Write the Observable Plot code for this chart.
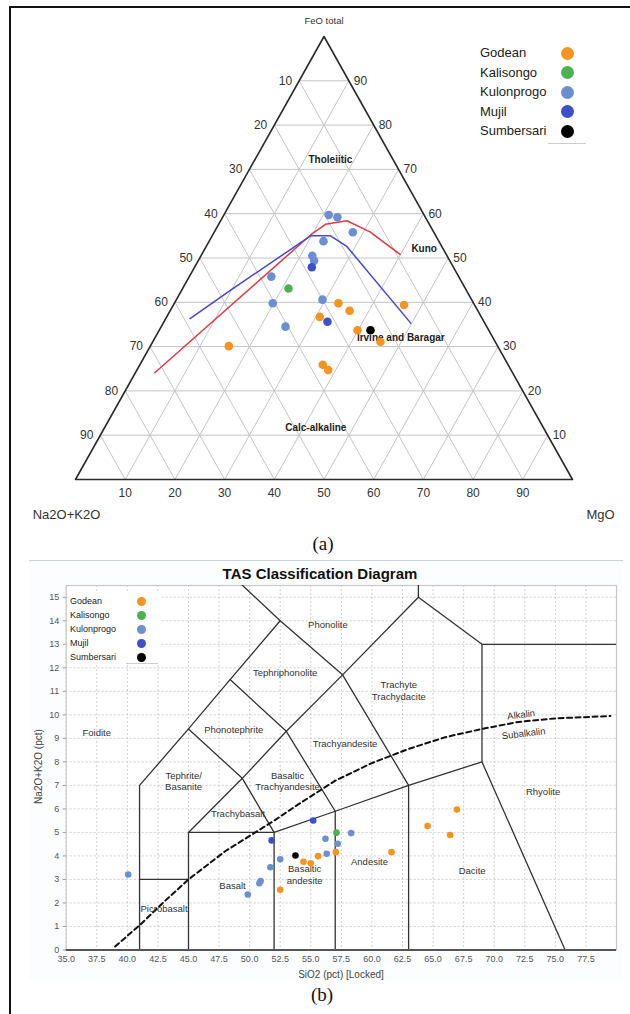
<!DOCTYPE html>
<html><head><meta charset="utf-8">
<script src="https://cdn.jsdelivr.net/npm/d3@7"></script>
<script src="https://cdn.jsdelivr.net/npm/@observablehq/plot@0.6"></script>
<style>
body{margin:0;background:#fff;font-family:Arial,"Liberation Sans",sans-serif;}
#page{position:relative;width:630px;height:1014px;overflow:hidden;background:#fff;}
.abs{position:absolute;}
#border{left:9px;top:6px;width:640px;height:1030px;border-left:2px solid #111;border-top:2px solid #111;}
#sep{left:29px;top:560px;width:594px;height:0;border-top:1.5px solid #c9d3de;}
#bgb{left:29px;top:562px;width:594px;height:418px;background:#fcfdfe;}
.leg{font-size:13px;color:#222;}
.leg .row{position:absolute;left:0;height:18px;line-height:18px;white-space:nowrap;}
.leg .dot{position:absolute;border-radius:50%;}
.cap{font-family:"Liberation Serif","Times New Roman",serif;font-size:19px;color:#111;text-align:center;width:60px;}
</style></head><body>
<div id="page">
  <div id="bgb" class="abs"></div>
  <div id="sep" class="abs"></div>
  <div id="chartA" class="abs" style="left:0;top:0"></div>
  <div id="chartB" class="abs" style="left:0;top:560px"></div>
  <div id="legA" class="abs leg" style="left:480px;top:0;width:120px;height:150px"></div>
  <div id="legB" class="abs leg" style="left:70px;top:592px;width:90px;height:72px;background:#fff;font-size:9px"></div>
  <div class="abs cap" style="left:293px;top:533px">(a)</div>
  <div class="abs cap" style="left:292px;top:984px">(b)</div>
  <div class="abs" style="left:170px;top:565px;width:300px;text-align:center;font-weight:bold;font-size:15px;color:#111">TAS Classification Diagram</div>
  <div class="abs" style="left:241px;top:969px;width:200px;text-align:center;font-size:10px;color:#444">SiO2 (pct) [Locked]</div>
  <div class="abs" style="left:-62px;top:761px;width:200px;text-align:center;font-size:10px;color:#444;transform:rotate(-90deg)">Na2O+K2O (pct)</div>
  <div id="border" class="abs"></div>
</div>
<script>
// ---------- categories ----------
const groups = ["Godean", "Kalisongo", "Kulonprogo", "Mujil", "Sumbersari"];
const groupColors = ["#f7941d", "#4db152", "#6c8fd3", "#3a50cc", "#000000"];

// ---------- AFM ternary (a): A = Na2O+K2O, F = FeO total, M = MgO ----------
const ternTicks = [10, 20, 30, 40, 50, 60, 70, 80, 90];
const afmGroup = ["Godean","Godean","Godean","Godean","Godean","Godean","Godean","Godean","Godean",
  "Kalisongo",
  "Kulonprogo","Kulonprogo","Kulonprogo","Kulonprogo","Kulonprogo","Kulonprogo","Kulonprogo","Kulonprogo","Kulonprogo","Kulonprogo",
  "Mujil","Mujil","Sumbersari"];
const afmA = [27.2, 25.8, 32.5, 14.2, 26.4, 23.1, 54.1, 37.3, 36.8,
  35.6,
  19.2, 17.7, 16.3, 23.2, 27.1, 27.3, 37.7, 40.4, 30.0, 40.5,
  28.5, 31.5, 23.8];
const afmF = [39.8, 38.1, 36.7, 39.4, 33.7, 31.1, 30.1, 25.9, 24.7,
  43.1,
  59.7, 59.2, 55.8, 53.8, 50.5, 49.4, 45.8, 39.8, 40.6, 34.5,
  47.9, 35.6, 33.7];
const afmM = [33.0, 36.1, 30.8, 46.4, 39.9, 45.8, 15.8, 36.8, 38.5,
  21.3,
  21.1, 23.1, 27.9, 23.0, 22.4, 23.3, 16.5, 19.8, 29.4, 25.0,
  23.6, 32.9, 42.5];
// Kuno boundary (red)
const kunoA = [72.0, 25.1, 20.9, 16.2, 12.8, 9.3];
const kunoF = [24.1, 55.2, 57.6, 58.4, 55.9, 50.8];
const kunoM = [3.9, 19.7, 21.5, 25.4, 31.3, 39.9];
// Irvine and Baragar boundary (blue)
const ibA = [58.8, 47.3, 25.2, 21.2, 19.1, 14.9];
const ibF = [36.3, 42.8, 55.0, 55.0, 52.6, 35.3];
const ibM = [4.9, 9.9, 19.8, 23.8, 28.3, 49.8];
// field labels
const ternLabelText = ["Tholeiitic", "Kuno", "Irvine and Baragar", "Calc-alkaline"];
const ternLabelA = [12.6, 3.8, 18.5, 45.8];
const ternLabelF = [72.2, 52.1, 32.1, 11.7];
const ternLabelM = [15.2, 44.1, 49.4, 42.5];
const ternAxisNames = ["FeO total", "Na2O+K2O", "MgO"];

// ---------- TAS (b) ----------
const tasXTicks = [35, 37.5, 40, 42.5, 45, 47.5, 50, 52.5, 55, 57.5, 60, 62.5, 65, 67.5, 70, 72.5, 75, 77.5];
const tasYTicks = [0,1,2,3,4,5,6,7,8,9,10,11,12,13,14,15];
const tasGroup = ["Godean","Godean","Godean","Godean","Godean","Godean","Godean","Godean","Godean",
  "Kalisongo",
  "Kulonprogo","Kulonprogo","Kulonprogo","Kulonprogo","Kulonprogo","Kulonprogo","Kulonprogo","Kulonprogo","Kulonprogo","Kulonprogo",
  "Mujil","Mujil","Sumbersari"];
const tasSiO2 = [52.5, 54.4, 55.0, 55.6, 57.05, 61.6, 64.55, 66.4, 66.95,
  57.1,
  40.07, 49.85, 50.8, 50.9, 51.7, 52.5, 56.2, 56.3, 57.2, 58.3,
  51.8, 55.2, 53.75];
const tasAlk = [2.56, 3.75, 3.69, 3.99, 4.16, 4.16, 5.27, 4.89, 5.97,
  4.99,
  3.21, 2.36, 2.84, 2.93, 3.52, 3.86, 4.73, 4.09, 4.52, 4.97,
  4.66, 5.51, 4.02];
// field boundaries (polylines, SiO2 / Na2O+K2O)
const tasBoundaries = [
  [[41,0],[41,7],[45,9.4],[48.4,11.5],[52.5,14],[48.4,16]],
  [[41,3],[45,3]],
  [[45,0],[45,5],[49.4,7.3],[53,9.3],[57.6,11.7],[63.8,15],[63.8,16]],
  [[45,9.4],[49.4,7.3],[52,5]],
  [[48.4,11.5],[53,9.3],[57,5.9]],
  [[52.5,14],[57.6,11.7],[63,7]],
  [[45,5],[52,5],[57,5.9],[63,7],[69,8],[75.8,0]],
  [[52,0],[52,5]],
  [[57,0],[57,5.9]],
  [[63,0],[63,7]],
  [[69,8],[69,13],[63.8,15]],
  [[69,13],[80,13]]
];
// Alkalin / Subalkalin divide (dashed)
const divideSiO2 = [39.0, 41.0, 43.0, 45.0, 48.0, 50.0, 52.0, 54.0, 57.0, 60.0, 63.0, 66.0, 69.0, 72.0, 75.0, 79.5];
const divideAlk  = [0.15, 1.05, 2.05, 3.0, 4.2, 4.85, 5.5, 6.2, 7.2, 7.95, 8.55, 9.05, 9.4, 9.7, 9.85, 9.95];
const tasLabelText = ["Phonolite", "Tephriphonolite", "Trachyte\nTrachydacite", "Foidite", "Phonotephrite",
  "Trachyandesite", "Tephrite/\nBasanite", "Basaltic\nTrachyandesite", "Trachybasalt", "Basalt",
  "Basaltic\nandesite", "Andesite", "Dacite", "Rhyolite", "Picrobasalt"];
const tasLabelX = [56.4, 52.9, 62.2, 37.5, 48.7, 57.8, 44.6, 53.1, 49.05, 48.6, 54.5, 59.8, 68.2, 74.0, 43.0];
const tasLabelY = [13.87, 11.83, 11.05, 9.26, 9.4, 8.79, 7.2, 7.2, 5.8, 2.77, 3.22, 3.79, 3.39, 6.75, 1.77];
const divideLabelText = ["Alkalin", "Subalkalin"];
const divideLabelX = [72.2, 72.4];
const divideLabelY = [10.0, 9.2];

// ---------- helpers ----------
const tx = (a, f, m) => (m + f / 2) / (a + f + m) * 100;
const ty = (a, f, m) => f / (a + f + m) * 100;
const FONT = "Arial, 'Liberation Sans', sans-serif";

// ---------- panel (a) ----------
const afm = afmGroup.map((g, i) => ({g, x: tx(afmA[i], afmF[i], afmM[i]), y: ty(afmA[i], afmF[i], afmM[i])}));
const grid = ternTicks.flatMap(v => [
  [[100 - v, v, 0], [0, v, 100 - v]],
  [[100 - v, 0, v], [0, 100 - v, v]],
  [[v, 0, 100 - v], [v, 100 - v, 0]]
]).map(([p, q]) => ({x1: tx(...p), y1: ty(...p), x2: tx(...q), y2: ty(...q)}));
const tri = [[100,0,0],[0,100,0],[0,0,100],[100,0,0]].map(p => ({x: tx(...p), y: ty(...p)}));
const leftLab = ternTicks.map(v => ({x: tx(v, 100 - v, 0), y: ty(v, 100 - v, 0), t: String(v)}));
const rightLab = ternTicks.map(v => ({x: tx(0, v, 100 - v), y: ty(0, v, 100 - v), t: String(v)}));
const bottomLab = ternTicks.map(v => ({x: tx(100 - v, 0, v), y: ty(100 - v, 0, v), t: String(v)}));
const kuno = kunoA.map((a, i) => ({x: tx(a, kunoF[i], kunoM[i]), y: ty(a, kunoF[i], kunoM[i])}));
const ib = ibA.map((a, i) => ({x: tx(a, ibF[i], ibM[i]), y: ty(a, ibF[i], ibM[i])}));
const tLabels = ternLabelText.map((t, i) => ({t, x: tx(ternLabelA[i], ternLabelF[i], ternLabelM[i]), y: ty(ternLabelA[i], ternLabelF[i], ternLabelM[i])}));
const corners = [[0,100,0],[100,0,0],[0,0,100]].map((p, i) => ({t: ternAxisNames[i], x: tx(...p), y: ty(...p)}));

const plotA = Plot.plot({
  width: 630, height: 530,
  marginLeft: 75, marginRight: 58, marginTop: 36, marginBottom: 51,
  x: {domain: [0, 100], axis: null},
  y: {domain: [0, 100], axis: null},
  color: {domain: groups, range: groupColors},
  style: {fontFamily: FONT, background: "transparent", overflow: "visible"},
  marks: [
    Plot.link(grid, {x1: "x1", y1: "y1", x2: "x2", y2: "y2", stroke: "#c4c4c4", strokeWidth: 1}),
    Plot.line(tri, {x: "x", y: "y", stroke: "#2a2a2a", strokeWidth: 1.6}),
    Plot.text(leftLab, {x: "x", y: "y", text: "t", textAnchor: "end", dx: -7, fontSize: 12, fill: "#333"}),
    Plot.text(rightLab, {x: "x", y: "y", text: "t", textAnchor: "start", dx: 5, fontSize: 12, fill: "#333"}),
    Plot.text(bottomLab, {x: "x", y: "y", text: "t", dy: 14, fontSize: 12, fill: "#333"}),
    Plot.text([corners[0]], {x: "x", y: "y", text: "t", dy: -16, fontSize: 9.5, fill: "#333"}),
    Plot.text([corners[1]], {x: "x", y: "y", text: "t", dx: -9, dy: 35, fontSize: 13, fill: "#333"}),
    Plot.text([corners[2]], {x: "x", y: "y", text: "t", dx: 28, dy: 35, fontSize: 13, fill: "#333"}),
    Plot.line(kuno, {x: "x", y: "y", stroke: "#e23a40", strokeWidth: 1.5}),
    Plot.line(ib, {x: "x", y: "y", stroke: "#4545e0", strokeWidth: 1.5}),
    Plot.text(tLabels, {x: "x", y: "y", text: "t", fontSize: 10, fontWeight: "bold", fill: "#222"}),
    Plot.dot(afm, {x: "x", y: "y", fill: "g", r: 4.3, stroke: "none"})
  ]
});
document.getElementById("chartA").appendChild(plotA);

// ---------- panel (b) ----------
const tasPts = tasGroup.map((g, i) => ({g, x: tasSiO2[i], y: tasAlk[i]}));
const bounds = tasBoundaries.flatMap((line, k) => line.map(([x, y]) => ({x, y, k})));
const divide = divideSiO2.map((x, i) => ({x, y: divideAlk[i]}));
const tlab = tasLabelText.map((t, i) => ({t, x: tasLabelX[i], y: tasLabelY[i]}));
const dlab = divideLabelText.map((t, i) => ({t, x: divideLabelX[i], y: divideLabelY[i]}));

const plotB = Plot.plot({
  width: 630, height: 420,
  marginLeft: 65.7, marginRight: 14, marginTop: 25, marginBottom: 30.5,
  x: {domain: [35, 80]},
  y: {domain: [0, 15.5]},
  color: {domain: groups, range: groupColors},
  style: {fontFamily: FONT, background: "transparent", overflow: "visible"},
  marks: [
    Plot.frame({fill: "#fff", stroke: "none"}),
    Plot.gridX(tasXTicks, {stroke: "#bbb", strokeOpacity: 0.7, strokeDasharray: "2,2"}),
    Plot.gridY(tasYTicks, {stroke: "#bbb", strokeOpacity: 0.7, strokeDasharray: "2,2"}),
    Plot.frame({stroke: "#c8c8c8", strokeWidth: 1.2}),
    Plot.line(bounds, {x: "x", y: "y", z: "k", stroke: "#333", strokeWidth: 1.3, clip: true}),
    Plot.line(divide, {x: "x", y: "y", stroke: "#111", strokeWidth: 2, strokeDasharray: "5,3.5", clip: true}),
    Plot.text(tlab, {x: "x", y: "y", text: "t", fontSize: 9.5, fill: "#333", lineHeight: 1.25}),
    Plot.text(dlab, {x: "x", y: "y", text: "t", fontSize: 9.5, fill: "#333", rotate: -7}),
    Plot.ruleY([0], {stroke: "#555", strokeWidth: 2}),
    Plot.axisY(tasYTicks, {tickSize: 3, tickPadding: 4, fontSize: 9, fill: "#555", stroke: "#999", label: null}),
    Plot.axisX(tasXTicks, {tickSize: 0, tickPadding: 6, fontSize: 9, fill: "#555", tickFormat: d => d.toFixed(1), label: null}),
    Plot.dot(tasPts, {x: "x", y: "y", fill: "g", r: 3.3, stroke: "none"})
  ]
});
document.getElementById("chartB").appendChild(plotB);

// ---------- legends ----------
function legend(el, rowsTop, rowGap, dotX, dotD, textSize) {
  groups.forEach((g, i) => {
    const row = document.createElement("div");
    row.className = "row";
    row.style.top = (rowsTop + i * rowGap - 9) + "px";
    row.style.fontSize = textSize + "px";
    row.textContent = g;
    el.appendChild(row);
    const d = document.createElement("div");
    d.className = "dot";
    d.style.left = (dotX - dotD / 2) + "px";
    d.style.top = (rowsTop + i * rowGap - dotD / 2) + "px";
    d.style.width = dotD + "px"; d.style.height = dotD + "px";
    d.style.background = groupColors[i];
    el.appendChild(d);
  });
}
const legA = document.getElementById("legA");
legend(legA, 53, 19.5, 87, 13, 13);
const ulA = document.createElement("div");
ulA.style.cssText = "position:absolute;left:68px;top:143px;width:38px;border-top:1px solid #ccc";
legA.appendChild(ulA);
const legB = document.getElementById("legB");
legend(legB, 9, 14, 71, 9, 9);
const ulB = document.createElement("div");
ulB.style.cssText = "position:absolute;left:56px;top:71px;width:32px;border-top:1px solid #ccc";
legB.appendChild(ulB);
</script>
</body></html>
